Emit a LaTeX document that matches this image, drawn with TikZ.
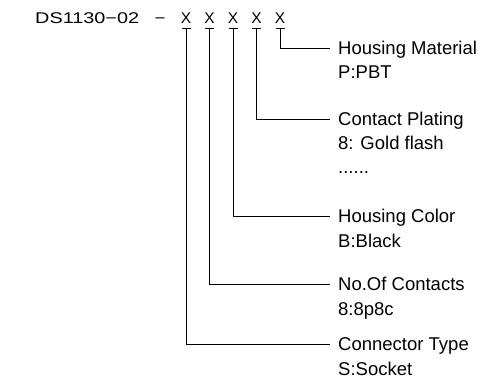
\documentclass[tikz,border=0pt]{standalone}
\usepackage{fontspec}
\setmainfont{Liberation Sans}
\newfontfamily\cadfont{Liberation Sans}
\begin{document}
\begin{tikzpicture}[x=1pt,y=-1pt,
  lbl/.style={font=\fontsize{18.5}{22}\selectfont, inner sep=0pt, anchor=base west},
  ttl/.style={font=\fontsize{18.5}{22}\selectfont, inner ysep=0pt, inner xsep=8pt,
              text height=13pt, text depth=0pt, anchor=west},
  hdr/.style={font=\cadfont\fontsize{15.5}{18}\selectfont, inner sep=0pt, anchor=base},
  conn/.style={line width=0.8pt, black}]
\useasboundingbox (0,0) rectangle (495,382);

% header
\node[hdr, anchor=base west] (code) at (35,24) {\scalebox{1.28}[1]{DS1130−02}};
\node[hdr] (dash) at (160,24) {\scalebox{1.2}[1]{−}};
\foreach \i/\x in {1/186,2/209.5,3/233,4/256.5,5/280}{
  \node[hdr] (x\i) at (\x,24) {X};
  \coordinate (u\i) at ([yshift=-4pt]x\i.base);
}

% titles
\node[ttl] (t5) at (330,48)  {Housing Material};
\node[ttl] (t4) at (330,119) {Contact Plating};
\node[ttl] (t3) at (330,216) {Housing Color};
\node[ttl] (t2) at (330,284) {No.Of Contacts};
\node[ttl] (t1) at (330,344) {Connector Type};

% values
\node[lbl] (v5) at (338,79)  {P:PBT};
\node[lbl] (v4) at (338,150) {8: Gold flash};
\node[lbl] (v4b) at (338,174) {......};
\node[lbl] (v3) at (338,247) {B:Black};
\node[lbl] (v2) at (338,315) {8:8p8c};
\node[lbl] (v1) at (338,375) {S:Socket};

% connectors
\foreach \i in {1,...,5}{
  \draw[conn] ([xshift=-4.5pt]u\i) -- ([xshift=4.5pt]u\i);
  \draw[conn] (u\i) |- (t\i.west);
}
\end{tikzpicture}
\end{document}
